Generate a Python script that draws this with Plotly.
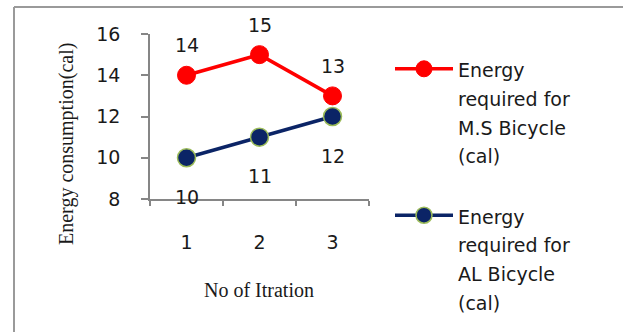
import plotly.graph_objects as go

iterations = ["1", "2", "3"]
ms_energy = [14, 15, 13]
al_energy = [10, 11, 12]
ms_name = "Energy<br>required for<br>M.S Bicycle<br>(cal)"
al_name = "Energy<br>required for<br>AL Bicycle<br>(cal)"
y_ticks = [8, 10, 12, 14, 16]

RED = "#ff0000"
NAVY = "#0b2466"
AXIS = "#868686"
TXT = "#1a1a1a"

def span(s, size=19):
    return "<br>".join(f"<span style='font-size:{size}px'>{p}</span>" for p in s.split("<br>"))

fig = go.Figure()
fig.add_trace(go.Scatter(
    x=iterations, y=ms_energy, mode="lines+markers", name=span(ms_name), legendgroup="ms",
    line=dict(color=RED, width=3.5),
    marker=dict(color=RED, size=18, line=dict(color=RED, width=1)),
))
fig.add_trace(go.Scatter(
    x=iterations, y=al_energy, mode="lines+markers", name=span(al_name), legendgroup="al",
    line=dict(color=NAVY, width=3.5),
    marker=dict(color=NAVY, size=18, line=dict(color="#9bbb59", width=1.5)),
))

annotations = []
for i, v in enumerate(ms_energy):
    annotations.append(dict(x=i, y=v, text=str(v), showarrow=False, yshift=30,
                            font=dict(family="DejaVu Sans", size=19, color=TXT)))
for i, v in enumerate(al_energy):
    annotations.append(dict(x=i, y=v, text=str(v), showarrow=False, yshift=-39,
                            font=dict(family="DejaVu Sans", size=19, color=TXT)))

def px_x(p):
    return (p - 150) / 219

def px_y(p):
    return (199 - p) / 165

# axis titles
annotations.append(dict(xref="paper", yref="paper", x=px_x(259), y=px_y(290),
                        xanchor="center", yanchor="middle",
                        text="No of Itration", showarrow=False,
                        font=dict(family="Liberation Serif", size=20, color=TXT)))
annotations.append(dict(xref="paper", yref="paper", x=px_x(66), y=px_y(144),
                        xanchor="center", yanchor="middle",
                        text="Energy consumption(cal)", showarrow=False, textangle=-90,
                        font=dict(family="Liberation Serif", size=20, color=TXT)))

shapes = [
    dict(type="line", xref="paper", yref="paper", x0=px_x(14), x1=px_x(640), y0=px_y(7), y1=px_y(7),
         line=dict(color="#9a9a9a", width=2)),
    dict(type="line", xref="paper", yref="paper", x0=px_x(14), x1=px_x(14), y0=px_y(7), y1=px_y(340),
         line=dict(color="#9a9a9a", width=2)),
]

fig.update_layout(
    width=623, height=332,
    margin=dict(l=150, r=254, t=34, b=133, autoexpand=False),
    paper_bgcolor="white", plot_bgcolor="white",
    font=dict(family="DejaVu Sans", color=TXT),
    showlegend=True,
    legend=dict(x=px_x(390), y=px_y(48), xanchor="left", yanchor="top",
                font=dict(family="DejaVu Sans", size=22, color=TXT),
                valign="top", tracegroupgap=29, itemwidth=58, maxheight=400,
                bgcolor="rgba(0,0,0,0)"),
    annotations=annotations,
    shapes=shapes,
    xaxis=dict(type="category", categoryorder="array", categoryarray=iterations,
               range=[-0.5, 2.5],
               showline=True, linecolor=AXIS, linewidth=1.5, ticks="outside", ticklen=5,
               tickcolor=AXIS, tickwidth=1.5, tickson="boundaries", showgrid=False,
               tickfont=dict(family="DejaVu Sans", size=19, color=TXT), ticklabelstandoff=25),
    yaxis=dict(range=[8, 16], tickvals=y_ticks, showline=True, linecolor=AXIS, linewidth=1.5,
               ticks="outside", ticklen=7, tickcolor=AXIS, tickwidth=1.5, showgrid=False,
               zeroline=False, tickfont=dict(family="DejaVu Sans", size=19, color=TXT),
               ticklabelstandoff=17),
)

fig.write_html("out.html", config={"displayModeBar": False},
               post_script="document.body.style.margin='0';document.body.style.overflow='hidden';")
